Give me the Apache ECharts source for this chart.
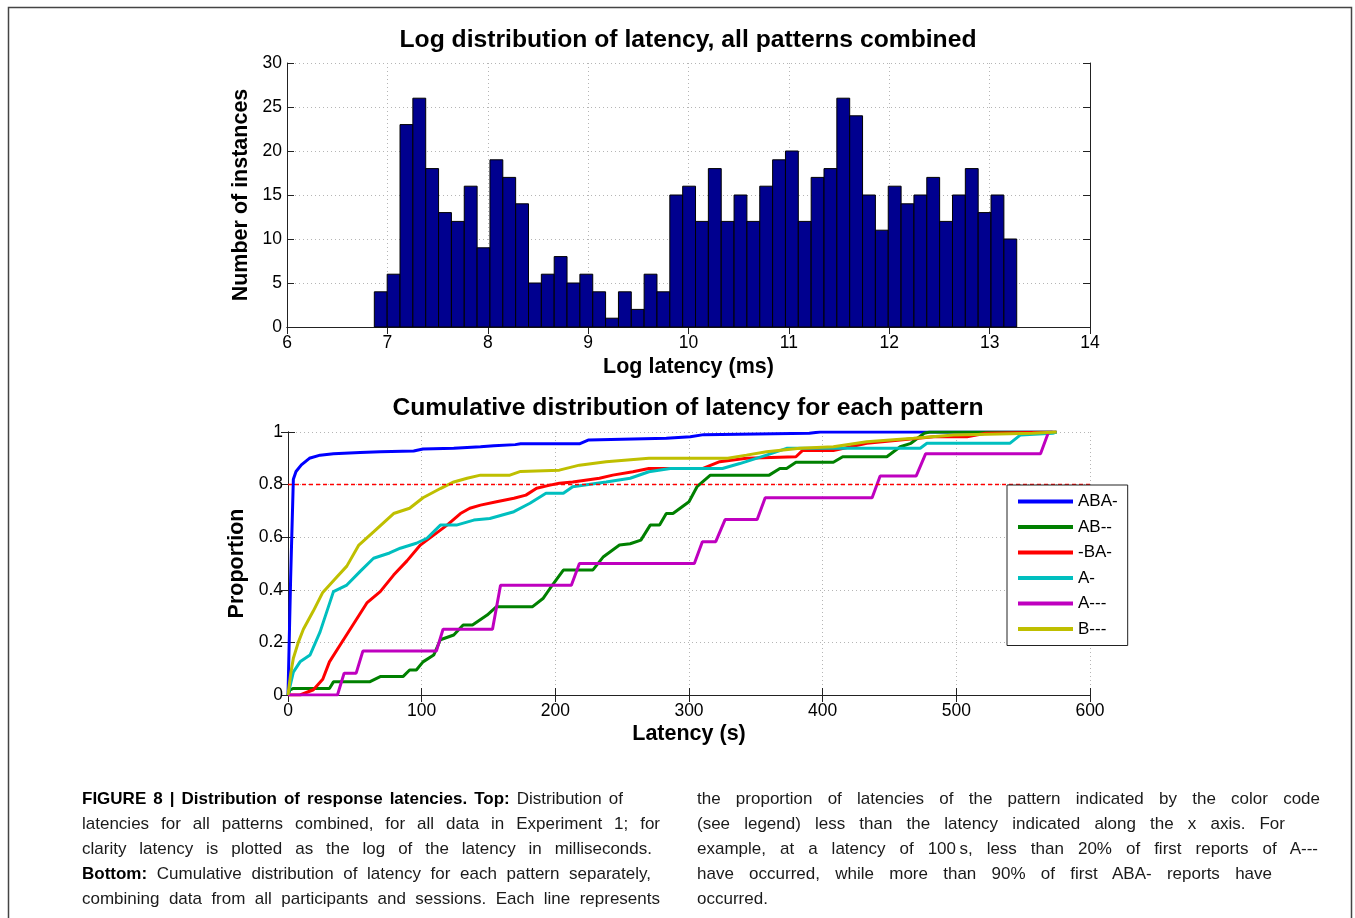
<!DOCTYPE html>
<html>
<head>
<meta charset="utf-8">
<script src="https://cdn.jsdelivr.net/npm/echarts@6.0.0/dist/echarts.min.js"></script>
<style>
  html, body { margin: 0; padding: 0; background: #fff; }
  #wrap { position: relative; width: 1355px; height: 918px; overflow: hidden; }
  #chart { position: absolute; left: 0; top: 0; width: 1355px; height: 918px; }
  .cap { position: absolute; height: 25px; line-height: 25px; font-size: 17px; color: #1a1a1a;
         font-family: 'Liberation Sans', Arial, sans-serif;
         white-space: nowrap; text-align: justify; text-align-last: justify; }
  .cap.last { text-align: left; text-align-last: left; }
  .cap b { color: #000; }
</style>
</head>
<body>
<div id="wrap">
  <div id="chart"></div>
  <div class="cap" style="left:82px;top:786px;width:541px"><b>FIGURE 8 | Distribution of response latencies. Top:</b> Distribution of</div>
  <div class="cap" style="left:82px;top:811px;width:578px">latencies for all patterns combined, for all data in Experiment 1; for</div>
  <div class="cap" style="left:82px;top:836px;width:570px">clarity latency is plotted as the log of the latency in milliseconds.</div>
  <div class="cap" style="left:82px;top:861px;width:569px"><b>Bottom:</b> Cumulative distribution of latency for each pattern separately,</div>
  <div class="cap" style="left:82px;top:886px;width:578px">combining data from all participants and sessions. Each line represents</div>
  <div class="cap" style="left:697px;top:786px;width:623px">the proportion of latencies of the pattern indicated by the color code</div>
  <div class="cap" style="left:697px;top:811px;width:588px">(see legend) less than the latency indicated along the x axis. For</div>
  <div class="cap" style="left:697px;top:836px;width:621px">example, at a latency of 100&#8201;s, less than 20% of first reports of A---</div>
  <div class="cap" style="left:697px;top:861px;width:575px">have occurred, while more than 90% of first ABA- reports have</div>
  <div class="cap last" style="left:697px;top:886px;">occurred.</div>
</div>
<script>
// ---------- DATA ----------
const histTitle = 'Log distribution of latency, all patterns combined';
const cdfTitle = 'Cumulative distribution of latency for each pattern';
const histBinStart = 6.87;
const histBinWidth = 0.128;
const histCounts = [4, 6, 23, 26, 18, 13, 12, 16, 9, 19, 17, 14, 5, 6, 8, 5, 6, 4, 1, 4, 2, 6, 4,
                    15, 16, 12, 18, 12, 15, 12, 16, 19, 20, 12, 17, 18, 26, 24, 15, 11, 16, 14, 15, 17, 12, 15, 18, 13, 15, 10];
const histXTicks = [6, 14, 1];   // min, max, step
const histYTicks = [0, 30, 5];
const cdfXTicks = [0, 600, 100];
const cdfYTicks = [0, 1, 0.2];
const threshold = 0.8;

const patternNames = ['ABA-', 'AB--', '-BA-', 'A-', 'A---', 'B---'];

const abaData = [[0,0],[2,0.45],[4,0.82],[6,0.85],[10,0.875],[16,0.9],[24,0.912],[34,0.917],[54,0.922],[69,0.925],[94,0.928],[101,0.935],[124,0.938],[144,0.944],[154,0.948],[170,0.952],[174,0.955],[218,0.955],[225,0.97],[283,0.976],[301,0.982],[311,0.99],[390,0.995],[398,1],[572,1]];
const abData = [[0,0],[1.5,0.019],[4,0.025],[31,0.025],[34,0.05],[61,0.05],[69,0.07],[86,0.07],[91,0.095],[96,0.095],[101,0.126],[109,0.152],[114,0.21],[124,0.228],[131,0.266],[138,0.266],[149,0.304],[156,0.336],[183,0.336],[191,0.368],[196,0.405],[206,0.475],[228,0.475],[236,0.526],[248,0.57],[256,0.575],[264,0.589],[271,0.646],[278,0.646],[283,0.69],[288,0.69],[300,0.735],[306,0.792],[316,0.836],[360,0.836],[368,0.861],[373,0.861],[380,0.885],[408,0.885],[415,0.906],[448,0.906],[458,0.944],[466,0.957],[476,0.995],[480,1],[575,1]];
const baData = [[0,0],[9,0],[19,0.02],[26,0.06],[31,0.126],[39,0.19],[49,0.27],[59,0.35],[69,0.393],[79,0.456],[89,0.51],[99,0.57],[109,0.608],[119,0.646],[129,0.69],[136,0.71],[144,0.722],[156,0.735],[169,0.748],[178,0.76],[186,0.786],[196,0.798],[203,0.805],[213,0.81],[233,0.824],[243,0.836],[258,0.849],[270,0.861],[310,0.861],[323,0.887],[343,0.9],[380,0.906],[385,0.93],[408,0.93],[433,0.957],[483,0.982],[508,0.982],[522,0.995],[575,1]];
const aData = [[0,0],[4,0.087],[9,0.126],[16.5,0.152],[24,0.24],[34,0.393],[44,0.418],[54,0.47],[64,0.52],[76,0.54],[84,0.558],[96,0.577],[104,0.596],[114,0.646],[126,0.646],[139,0.665],[151,0.671],[169,0.697],[181,0.729],[193,0.767],[206,0.767],[213,0.792],[238,0.81],[256,0.824],[270,0.849],[286,0.861],[325,0.861],[338,0.88],[358,0.912],[373,0.938],[473,0.938],[478,0.957],[540,0.957],[548,0.989],[572,0.995],[575,1]];
const a3Data = [[0,0],[37,0],[42,0.083],[51,0.083],[56,0.167],[111,0.167],[116,0.25],[153,0.25],[159,0.417],[212,0.417],[218,0.5],[304,0.5],[310,0.583],[320,0.583],[327,0.667],[351,0.667],[357,0.75],[437,0.75],[443,0.833],[470,0.833],[477,0.917],[563,0.917],[569,1]];
const b3Data = [[0,0],[2,0.08],[4,0.14],[7.7,0.2],[11.5,0.25],[19,0.32],[26,0.39],[35,0.44],[44,0.49],[53,0.57],[64,0.62],[79,0.69],[91,0.71],[101,0.75],[114,0.785],[124,0.81],[134,0.824],[144,0.836],[166,0.836],[174,0.85],[203,0.855],[218,0.874],[238,0.887],[270,0.9],[329,0.9],[343,0.912],[358,0.925],[383,0.938],[408,0.944],[433,0.963],[468,0.976],[498,0.989],[557,0.995],[575,1]];
const patternData = [abaData, abData, baData, aData, a3Data, b3Data];
const patternColors = ['#0000FF', '#008000', '#FF0000', '#00BFBF', '#BF00BF', '#BFBF00'];

// ---------- CHART ----------
const FONT = 'Liberation Sans, Arial, sans-serif';
const chart = echarts.init(document.getElementById('chart'), null, { renderer: 'canvas' });

function mainAxis(gridIndex, ticks, position, name, nameGap, isY) {
  return {
    gridIndex, type: 'value', min: ticks[0], max: ticks[1], interval: ticks[2], position,
    axisLine: { show: true, lineStyle: { color: '#222', width: 1 } },
    axisTick: { show: true, inside: true, length: 7, lineStyle: { color: '#222' } },
    axisLabel: { show: true, color: '#000', fontFamily: FONT, fontSize: 17.5, margin: isY ? 5 : 7 },
    splitLine: { show: true, lineStyle: { color: '#b5b5b5', type: [1, 3], width: 1 } },
    name, nameLocation: 'middle', nameGap,
    nameTextStyle: { color: '#000', fontFamily: FONT, fontSize: 21.5, fontWeight: 'bold' }
  };
}
function mirrorAxis(gridIndex, ticks, position) {
  return {
    gridIndex, type: 'value', min: ticks[0], max: ticks[1], interval: ticks[2], position,
    axisLine: { show: true, lineStyle: { color: '#222', width: 1 } },
    axisTick: { show: true, inside: true, length: 7, lineStyle: { color: '#222' } },
    axisLabel: { show: false }, splitLine: { show: false }
  };
}

const histData = histCounts.map((c, i) => [histBinStart + i * histBinWidth, histBinStart + (i + 1) * histBinWidth, c]);

const lineSeries = patternNames.map((n, i) => ({
  name: n, type: 'line', xAxisIndex: 2, yAxisIndex: 2, data: patternData[i],
  symbol: 'none', smooth: false, color: patternColors[i],
  lineStyle: { width: 3, color: patternColors[i] }, z: 3,
  markLine: i === 0 ? {
    silent: true, symbol: 'none', label: { show: false },
    lineStyle: { color: '#FF0000', type: [4, 3], width: 1.3 },
    data: [{ yAxis: threshold }]
  } : undefined
}));

chart.setOption({
  animation: false,
  backgroundColor: '#fff',
  grid: [
    { left: 287, top: 63, width: 803, height: 264, show: false },
    { left: 288, top: 432, width: 802, height: 263, show: false }
  ],
  xAxis: [
    mainAxis(0, histXTicks, 'bottom', 'Log latency (ms)', 29, false),
    mirrorAxis(0, histXTicks, 'top'),
    mainAxis(1, cdfXTicks, 'bottom', 'Latency (s)', 28, false),
    mirrorAxis(1, cdfXTicks, 'top')
  ],
  yAxis: [
    mainAxis(0, histYTicks, 'left', 'Number of instances', 34, true),
    mirrorAxis(0, histYTicks, 'right'),
    mainAxis(1, cdfYTicks, 'left', 'Proportion', 40, true),
    mirrorAxis(1, cdfYTicks, 'right')
  ],
  legend: {
    data: patternNames, left: 1007, top: 485, orient: 'vertical',
    backgroundColor: '#fff', borderColor: '#222', borderWidth: 1, borderRadius: 0,
    padding: [8, 10, 8, 11], itemWidth: 55, itemHeight: 4, itemGap: 8.5, icon: 'rect',
    textStyle: { color: '#000', fontFamily: FONT, fontSize: 17 }, z: 10
  },
  graphic: [
    { type: 'rect', silent: true, z: -10, shape: { x: 8.5, y: 7.5, width: 1343, height: 960 },
      style: { fill: null, stroke: '#444', lineWidth: 1.5 } },
    { type: 'text', x: 688, y: 40, silent: true,
      style: { text: histTitle, textAlign: 'center', textVerticalAlign: 'middle', fill: '#000',
               font: 'bold 24.7px Liberation Sans, Arial, sans-serif' } },
    { type: 'text', x: 688, y: 408, silent: true,
      style: { text: cdfTitle, textAlign: 'center', textVerticalAlign: 'middle', fill: '#000',
               font: 'bold 24.7px Liberation Sans, Arial, sans-serif' } }
  ],
  series: [
    {
      type: 'custom', xAxisIndex: 0, yAxisIndex: 0, data: histData,
      encode: { x: [0, 1], y: 2 },
      renderItem: function (params, api) {
        const p0 = api.coord([api.value(0), api.value(2)]);
        const p1 = api.coord([api.value(1), 0]);
        return { type: 'rect', shape: { x: p0[0], y: p0[1], width: p1[0] - p0[0], height: p1[1] - p0[1] },
                 style: { fill: '#00008F', stroke: '#000', lineWidth: 1 } };
      }
    }
  ].concat(lineSeries)
});
</script>
</body>
</html>
